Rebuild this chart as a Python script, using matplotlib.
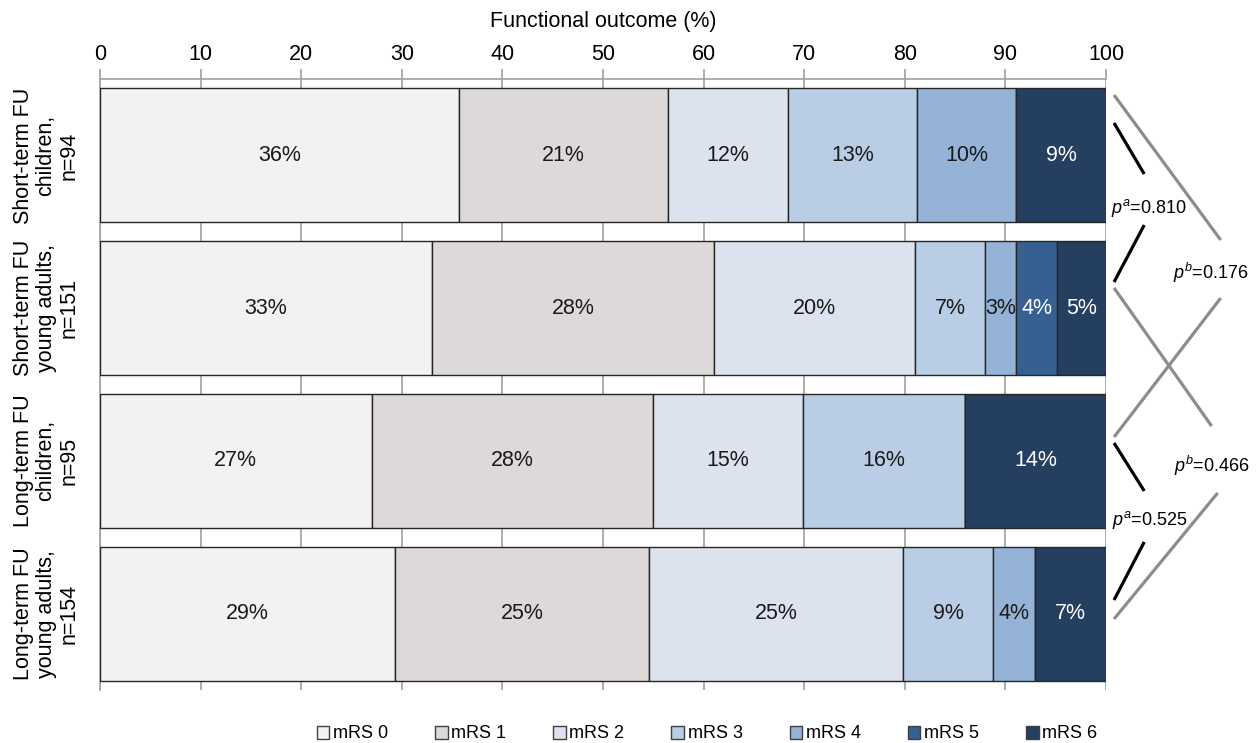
import numpy as np
import matplotlib.pyplot as plt
from matplotlib.patches import Patch

plt.rcParams['font.family'] = ['Liberation Sans', 'DejaVu Sans']
plt.rcParams['mathtext.fontset'] = 'custom'
plt.rcParams['mathtext.rm'] = 'Liberation Sans'
plt.rcParams['mathtext.it'] = 'Liberation Sans:italic'

groups = ['Short-term FU\nchildren,\nn=94',
          'Short-term FU\nyoung adults,\nn=151',
          'Long-term FU\nchildren,\nn=95',
          'Long-term FU\nyoung adults,\nn=154']
categories = ['mRS 0', 'mRS 1', 'mRS 2', 'mRS 3', 'mRS 4', 'mRS 5', 'mRS 6']

# percentages per group, columns mRS 0..6
mrs0 = [35.7, 33.0, 27.0, 29.3]
mrs1 = [20.8, 28.0, 28.0, 25.3]
mrs2 = [11.9, 20.0, 14.9, 25.2]
mrs3 = [12.8, 7.0, 16.1, 9.0]
mrs4 = [9.9, 3.1, 0.0, 4.1]
mrs5 = [0.0, 4.0, 0.0, 0.0]
mrs6 = [8.9, 4.9, 14.0, 7.1]

colors = ['#f2f2f2', '#dcd9d8', '#dce3ee', '#b9cde5', '#95b3d7', '#376092', '#243f60']
text_colors = ['#1a1a1a'] * 5 + ['white', 'white']

# p-value annotations
p_texts = [r'$p^a$=0.810', r'$p^b$=0.176', r'$p^b$=0.466', r'$p^a$=0.525']

FS = 15.5

fig = plt.figure(figsize=(12.58, 7.43), dpi=100)
ax = fig.add_axes([100 / 1258, 1 - 690 / 743, 1006 / 1258, 611 / 743])

data = np.array([mrs0, mrs1, mrs2, mrs3, mrs4, mrs5, mrs6])
y = np.arange(len(groups))
left = np.zeros(len(groups))
for i, cat in enumerate(categories):
    vals = data[i]
    ax.barh(y, vals, left=left, height=0.876, color=colors[i],
            edgecolor='#262626', linewidth=1.0, zorder=3)
    for j in range(len(groups)):
        if vals[j] > 0:
            ax.text(left[j] + vals[j] / 2, y[j], '%d%%' % round(vals[j]),
                    ha='center', va='center', fontsize=FS,
                    color=text_colors[i], zorder=4)
    left += vals

ax.set_xlim(0, 100)
ax.set_ylim(3.5, -0.5)
ax.set_xticks(np.arange(0, 101, 10))
ax.xaxis.tick_top()
ax.xaxis.set_label_position('top')
ax.set_xlabel('Functional outcome (%)', fontsize=FS, labelpad=12)
ax.tick_params(axis='x', direction='out', length=7, width=1.2, color='#a0a0a0',
               labelsize=FS, pad=3)
ax.set_yticks(y)
ax.set_yticklabels(groups, rotation=90, va='center', ha='right',
                   multialignment='center', fontsize=FS, linespacing=1.1)
ax.tick_params(axis='y', length=0, pad=15)
ax.grid(axis='x', color='#a0a0a0', linewidth=1.2, zorder=0)
for s in ['right', 'bottom']:
    ax.spines[s].set_visible(False)
for s in ['top', 'left']:
    ax.spines[s].set_color('#a0a0a0')
    ax.spines[s].set_linewidth(1.2)

# connector lines on the right
gray_lines = [((100.8, 111.4), (-0.395, 0.554)),
              ((100.8, 110.5), (0.868, 1.772)),
              ((111.4, 100.8), (0.934, 1.844)),
              ((111.1, 100.8), (2.210, 3.035))]
black_lines = [((100.8, 103.8), (-0.212, 0.122)),
               ((103.8, 100.8), (0.456, 0.829)),
               ((100.8, 103.8), (1.883, 2.197)),
               ((103.8, 100.8), (2.531, 2.911))]
for xs, ys in gray_lines:
    ax.plot(xs, ys, color='#8c8c8c', linewidth=2.3, clip_on=False,
            solid_capstyle='butt')
for xs, ys in black_lines:
    ax.plot(xs, ys, color='black', linewidth=2.3, clip_on=False,
            solid_capstyle='butt')
p_pos = [(100.5, 0.345), (106.7, 0.77), (106.8, 2.034), (100.6, 2.387)]
for (px, py), t in zip(p_pos, p_texts):
    ax.text(px, py, t, ha='left', va='center', fontsize=13, clip_on=False)

handles = [Patch(facecolor=c, edgecolor='#404040', linewidth=1.0) for c in colors]
fig.legend(handles, categories, loc='center', bbox_to_anchor=(707 / 1258, 1 - 734 / 743),
           ncol=7, frameon=False, fontsize=13, handlelength=0.7, handleheight=0.7,
           handletextpad=0.2, columnspacing=2.6)

fig.savefig('out.png', dpi=100)
